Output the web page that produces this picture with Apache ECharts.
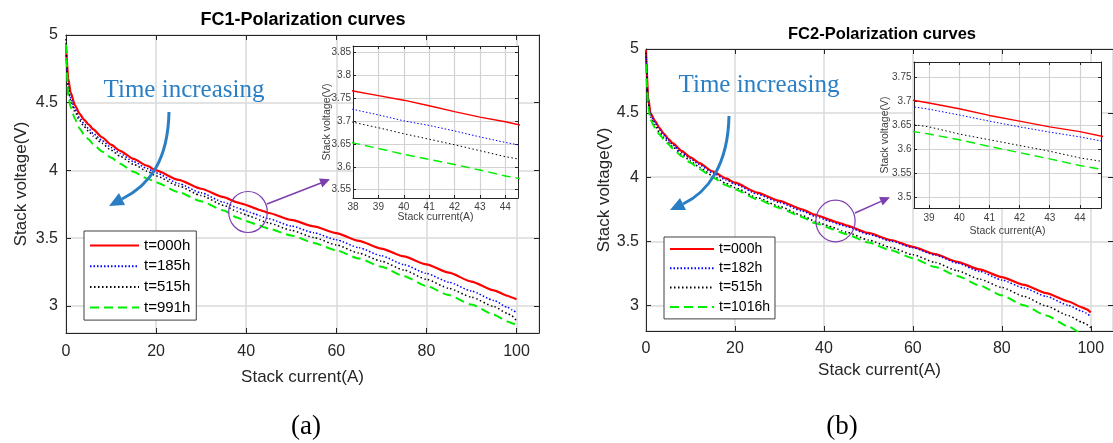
<!DOCTYPE html>
<html><head><meta charset="utf-8">
<script src="https://cdn.jsdelivr.net/npm/echarts@6/dist/echarts.min.js"></script>
<style>html,body{margin:0;padding:0;background:#fff}#c{width:1113px;height:443px}</style>
</head><body><div id="c"></div><script>
// ---- data ----
const current = [0, 0.5, 1, 2, 3, 4, 5, 6, 8, 10, 12, 15, 18, 20, 25, 30, 35, 38, 39, 40, 41, 42, 43, 44, 45, 50, 55, 60, 65, 70, 75, 80, 85, 90, 95, 98, 99, 100];

const fc1Names = ['t=000h', 't=185h', 't=515h', 't=991h'];
const fc1_000h = [4.92, 4.68, 4.58, 4.48, 4.42, 4.375, 4.34, 4.305, 4.245, 4.19, 4.145, 4.085, 4.035, 4.0, 3.93, 3.865, 3.803, 3.765, 3.755, 3.745, 3.733, 3.72, 3.708, 3.698, 3.686, 3.635, 3.587, 3.538, 3.48, 3.423, 3.365, 3.307, 3.245, 3.18, 3.115, 3.075, 3.062, 3.05];
const fc1_185h = [4.85, 4.62, 4.54, 4.45, 4.39, 4.345, 4.31, 4.275, 4.22, 4.17, 4.125, 4.065, 4.015, 3.982, 3.903, 3.835, 3.765, 3.725, 3.713, 3.70, 3.69, 3.678, 3.665, 3.653, 3.643, 3.59, 3.54, 3.488, 3.43, 3.37, 3.305, 3.24, 3.175, 3.11, 3.04, 2.99, 2.972, 2.95];
const fc1_515h = [4.97, 4.6, 4.52, 4.43, 4.37, 4.325, 4.29, 4.255, 4.2, 4.15, 4.105, 4.045, 3.995, 3.96, 3.885, 3.815, 3.742, 3.697, 3.685, 3.672, 3.66, 3.648, 3.635, 3.622, 3.612, 3.558, 3.505, 3.45, 3.39, 3.33, 3.265, 3.196, 3.13, 3.065, 2.995, 2.945, 2.925, 2.89];
const fc1_991h = [4.93, 4.55, 4.47, 4.38, 4.31, 4.265, 4.23, 4.195, 4.14, 4.095, 4.05, 3.99, 3.94, 3.912, 3.84, 3.772, 3.705, 3.652, 3.64, 3.627, 3.616, 3.605, 3.593, 3.58, 3.57, 3.52, 3.465, 3.41, 3.35, 3.29, 3.22, 3.147, 3.08, 3.01, 2.935, 2.885, 2.872, 2.859];

const fc2Names = ['t=000h', 't=182h', 't=515h', 't=1016h'];
const fc2_000h = [4.99, 4.62, 4.5, 4.44, 4.385, 4.34, 4.30, 4.265, 4.205, 4.155, 4.11, 4.045, 3.99, 3.957, 3.88, 3.815, 3.75, 3.708, 3.697, 3.685, 3.671, 3.659, 3.647, 3.637, 3.624, 3.565, 3.51, 3.457, 3.40, 3.34, 3.28, 3.221, 3.16, 3.095, 3.03, 2.985, 2.97, 2.945];
const fc2_182h = [4.95, 4.6, 4.49, 4.425, 4.37, 4.327, 4.288, 4.253, 4.193, 4.143, 4.098, 4.033, 3.978, 3.945, 3.868, 3.803, 3.737, 3.694, 3.684, 3.672, 3.659, 3.647, 3.636, 3.626, 3.614, 3.555, 3.502, 3.45, 3.392, 3.33, 3.265, 3.198, 3.135, 3.07, 3.0, 2.955, 2.94, 2.91];
const fc2_515h = [4.97, 4.58, 4.47, 4.4, 4.35, 4.31, 4.272, 4.238, 4.178, 4.126, 4.078, 4.01, 3.952, 3.918, 3.84, 3.772, 3.703, 3.656, 3.647, 3.632, 3.62, 3.608, 3.596, 3.582, 3.572, 3.51, 3.452, 3.395, 3.335, 3.27, 3.205, 3.14, 3.07, 2.995, 2.92, 2.87, 2.852, 2.826];
const fc2_1016h = [4.88, 4.55, 4.45, 4.385, 4.335, 4.295, 4.258, 4.224, 4.164, 4.112, 4.064, 3.997, 3.938, 3.905, 3.828, 3.76, 3.69, 3.642, 3.632, 3.62, 3.606, 3.593, 3.58, 3.566, 3.555, 3.49, 3.43, 3.368, 3.3, 3.23, 3.155, 3.078, 3.0, 2.92, 2.835, 2.78, 2.762, 2.745];

const mainXTicks = {min: 0, max: 105, interval: 20};
const mainYRange = {min: 2.8, max: 5};
const insetA = {xmin: 38, xmax: 44.5, ymin: 3.532, ymax: 3.863};
const insetB = {xmin: 38.5, xmax: 44.7, ymin: 3.477, ymax: 3.783};

// ---- styling ----
const SANS = '"Liberation Sans", Arial, sans-serif';
const SERIF = '"Liberation Serif", "Times New Roman", serif';
const AXC = '#262626', GRIDC = '#dadada', GRIDI = '#d2d2d2', INC = '#404040';
const styles = [
  {color: '#ff0000', type: 'solid', w: 2.2, wi: 1.4},
  {color: '#0000ff', type: [1.5, 2], w: 1.5, wi: 1},
  {color: '#000000', type: [1.5, 2.5], w: 1.5, wi: 1},
  {color: '#00ee00', type: [9, 5], w: 2, wi: 1.4}
];

function line(name, vals, st, axisIdx, inset) {
  return {
    type: 'line', name, xAxisIndex: axisIdx, yAxisIndex: axisIdx,
    data: current.map((x, i) => [x, vals[i]]),
    symbol: 'none', showSymbol: false, clip: true,
    smooth: inset ? false : 0.2, smoothMonotone: 'x',
    zlevel: inset ? 1 : 0, z: 2, silent: true,
    lineStyle: {color: st.color, width: inset ? st.wi : st.w, type: st.type},
    itemStyle: {color: st.color}
  };
}

function xBottom(g, o) {
  return Object.assign({
    type: 'value', gridIndex: g, position: 'bottom',
    axisLine: {show: true, onZero: false, lineStyle: {color: AXC, width: 1}},
    axisTick: {show: true, inside: true, length: o.tick, lineStyle: {color: AXC}},
    axisLabel: {show: true, fontSize: o.fs, color: o.lc, margin: o.margin, fontFamily: SANS, showMinLabel: o.showMin, showMaxLabel: false},
    splitLine: {show: true, lineStyle: {color: o.gc, width: o.gw}},
    name: 'Stack current(A)', nameLocation: 'middle', nameGap: o.nameGap, nameMoveOverlap: false,
    nameTextStyle: {fontSize: o.nfs, color: o.lc, fontFamily: SANS}
  }, o.range);
}
function yLeft(g, o) {
  return Object.assign({
    type: 'value', gridIndex: g, position: 'left',
    axisLine: {show: true, onZero: false, lineStyle: {color: AXC, width: 1}},
    axisTick: {show: true, inside: true, length: o.tick, lineStyle: {color: AXC}},
    axisLabel: {show: true, fontSize: o.fs, color: o.lc, margin: o.margin, fontFamily: SANS, showMinLabel: false, showMaxLabel: o.showMax},
    splitLine: {show: true, lineStyle: {color: o.gc, width: o.gw}},
    name: 'Stack voltage(V)', nameLocation: 'middle', nameGap: o.nameGap, nameMoveOverlap: false,
    nameTextStyle: {fontSize: o.nfs, color: o.lc, fontFamily: SANS}
  }, o.range);
}
function mirror(kind, g, range, tick, zl) {
  return Object.assign({
    type: 'value', gridIndex: g, position: kind,
    axisLine: {show: true, onZero: false, lineStyle: {color: AXC, width: 1}},
    axisTick: {show: true, inside: true, length: tick, lineStyle: {color: AXC}},
    axisLabel: {show: false}, splitLine: {show: false}, zlevel: zl
  }, range);
}

const rMainX = {min: mainXTicks.min, max: mainXTicks.max, interval: mainXTicks.interval};
const rMainY = {min: mainYRange.min, max: mainYRange.max, splitNumber: 4};
const rIAX = {min: insetA.xmin, max: insetA.xmax, interval: 1};
const rIAY = {min: insetA.ymin, max: insetA.ymax, splitNumber: 6};
const rIBX = {min: insetB.xmin, max: insetB.xmax, splitNumber: 6};
const rIBY = {min: insetB.ymin, max: insetB.ymax, splitNumber: 6};

// axis index: 0 main a, 1 inset a, 2 main b, 3 inset b, 4..7 their mirrored (top/right) axes
const xAxis = [
  xBottom(0, {range: rMainX, tick: 5, fs: 16, lc: AXC, margin: 11, showMin: true, gc: GRIDC, gw: 1.5, nameGap: 36, nfs: 17}),
  Object.assign(xBottom(1, {range: rIAX, tick: 3, fs: 10, lc: INC, margin: 4, showMin: true, gc: GRIDI, gw: 1.2, nameGap: 13.5, nfs: 10.5}), {zlevel: 1}),
  xBottom(2, {range: rMainX, tick: 5, fs: 16, lc: AXC, margin: 10, showMin: true, gc: GRIDC, gw: 1.5, nameGap: 31, nfs: 17}),
  Object.assign(xBottom(3, {range: rIBX, tick: 3, fs: 10, lc: INC, margin: 5.5, showMin: false, gc: GRIDI, gw: 1.2, nameGap: 17.5, nfs: 10.5}), {zlevel: 1}),
  mirror('top', 0, rMainX, 5, 0),
  mirror('top', 1, rIAX, 3, 1),
  mirror('top', 2, rMainX, 5, 0),
  mirror('top', 3, rIBX, 3, 1)
];
const yAxis = [
  yLeft(0, {range: rMainY, tick: 5, fs: 16, lc: AXC, margin: 8, showMax: true, gc: GRIDC, gw: 1.5, nameGap: 36, nfs: 17}),
  Object.assign(yLeft(1, {range: rIAY, tick: 3, fs: 10, lc: INC, margin: 2, showMax: false, gc: GRIDI, gw: 1.2, nameGap: 20, nfs: 10.5}), {zlevel: 1}),
  yLeft(2, {range: rMainY, tick: 5, fs: 16, lc: AXC, margin: 7, showMax: true, gc: GRIDC, gw: 1.5, nameGap: 33, nfs: 17}),
  Object.assign(yLeft(3, {range: rIBY, tick: 3, fs: 10, lc: INC, margin: 2.5, showMax: false, gc: GRIDI, gw: 1.2, nameGap: 23, nfs: 10.5}), {zlevel: 1}),
  mirror('right', 0, rMainY, 5, 0),
  mirror('right', 1, rIAY, 3, 1),
  mirror('right', 2, rMainY, 5, 0),
  mirror('right', 3, rIBY, 3, 1)
];

const fc1 = [fc1_000h, fc1_185h, fc1_515h, fc1_991h];
const fc2 = [fc2_000h, fc2_182h, fc2_515h, fc2_1016h];
const series = [];
fc1.forEach((v, i) => series.push(line(fc1Names[i], v, styles[i], 0, false)));
fc1.forEach((v, i) => series.push(line(fc1Names[i], v, styles[i], 1, true)));
fc2.forEach((v, i) => series.push(line(fc2Names[i], v, styles[i], 2, false)));
fc2.forEach((v, i) => series.push(line(fc2Names[i], v, styles[i], 3, true)));

const BLUE = '#2a7fc4', PURPLE = '#7d3fae';
function txt(x, y, text, size, weight, family, color) {
  return {type: 'text', x, y, z: 100, silent: true,
    style: {text, fontSize: size, fontWeight: weight, fontFamily: family, fill: color, align: 'center', verticalAlign: 'middle'}};
}

const chart = echarts.init(document.getElementById('c'), null, {renderer: 'canvas'});
chart.setOption({
  animation: false,
  backgroundColor: '#ffffff',
  grid: [
    {left: 66, top: 35, width: 473, height: 298},
    {left: 353, top: 46, width: 165, height: 152, show: true, backgroundColor: '#ffffff', borderWidth: 0, zlevel: 1},
    {left: 646, top: 49, width: 472, height: 282},
    {left: 914, top: 62, width: 187, height: 146, show: true, backgroundColor: '#ffffff', borderWidth: 0, zlevel: 1}
  ],
  xAxis, yAxis, series,
  legend: [
    {data: fc1Names, orient: 'vertical', left: 84, top: 231, padding: [7, 6, 5, 5],
     itemWidth: 49, itemHeight: 15, itemGap: 5.7, backgroundColor: '#fff', borderColor: '#404040', borderWidth: 1,
     itemStyle: {opacity: 0},
     textStyle: {fontSize: 15, color: '#000', fontFamily: SANS}, selectedMode: false},
    {data: fc2Names, orient: 'vertical', left: 664, top: 237, padding: [5, 5, 5, 5],
     itemWidth: 44, itemHeight: 14, itemGap: 5.3, backgroundColor: '#fff', borderColor: '#404040', borderWidth: 1,
     itemStyle: {opacity: 0},
     textStyle: {fontSize: 14, color: '#000', fontFamily: SANS}, selectedMode: false}
  ],
  graphic: {elements: [
    txt(303, 20, 'FC1-Polarization curves', 18, 'bold', SANS, '#000'),
    txt(882, 34, 'FC2-Polarization curves', 16.5, 'bold', SANS, '#000'),
    txt(184, 90, 'Time increasing', 25, 'normal', SERIF, BLUE),
    txt(759, 85, 'Time increasing', 25, 'normal', SERIF, BLUE),
    txt(306, 427, '(a)', 27, 'normal', SERIF, '#000'),
    txt(842, 427, '(b)', 27, 'normal', SERIF, '#000'),
    {type: 'bezierCurve', z: 100, silent: true, shape: {x1: 169, y1: 112, cpx1: 168, cpy1: 160, cpx2: 150, cpy2: 185, x2: 122, y2: 199}, style: {stroke: BLUE, lineWidth: 3, fill: null}},
    {type: 'polygon', z: 100, silent: true, shape: {points: [[109, 206], [125, 205], [119, 193]]}, style: {fill: BLUE}},
    {type: 'bezierCurve', z: 100, silent: true, shape: {x1: 729, y1: 116, cpx1: 728, cpy1: 165, cpx2: 708, cpy2: 192, x2: 683, y2: 204}, style: {stroke: BLUE, lineWidth: 3, fill: null}},
    {type: 'polygon', z: 100, silent: true, shape: {points: [[670, 210], [686, 210], [680, 198]]}, style: {fill: BLUE}},
    {type: 'ellipse', z: 100, silent: true, shape: {cx: 248, cy: 212, rx: 19.3, ry: 20.5}, style: {stroke: PURPLE, lineWidth: 1.2, fill: null}},
    {type: 'line', z: 100, silent: true, shape: {x1: 267, y1: 204, x2: 321, y2: 183}, style: {stroke: PURPLE, lineWidth: 1.5}},
    {type: 'polygon', z: 100, silent: true, shape: {points: [[330, 179.3], [322.3, 187.5], [319, 178.5]]}, style: {fill: PURPLE}},
    {type: 'ellipse', z: 100, silent: true, shape: {cx: 835.5, cy: 221, rx: 19.6, ry: 20.8}, style: {stroke: PURPLE, lineWidth: 1.2, fill: null}},
    {type: 'line', z: 100, silent: true, shape: {x1: 855, y1: 213, x2: 881, y2: 201.4}, style: {stroke: PURPLE, lineWidth: 1.5}},
    {type: 'polygon', z: 100, silent: true, shape: {points: [[890, 197.3], [882.7, 205.5], [879.1, 197]]}, style: {fill: PURPLE}}
  ]}
});
</script></body></html>
